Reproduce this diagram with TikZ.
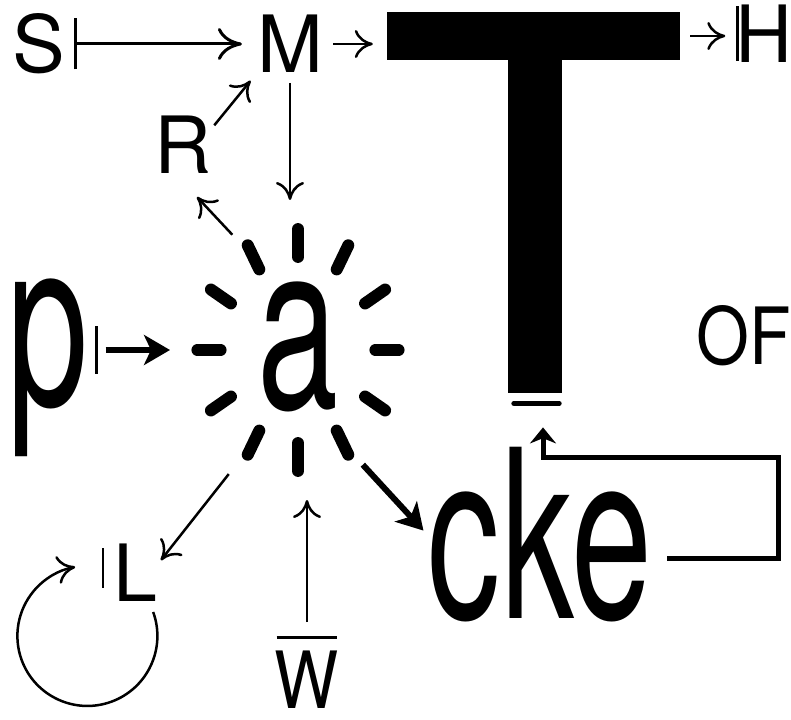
\documentclass[tikz,border=0pt]{standalone}
\usepackage{fontspec}
\setmainfont{TeX Gyre Heros}
\newfontfamily\narrowfont[FakeStretch=0.62]{TeX Gyre Heros}
\newfontfamily\semifont[FakeStretch=0.86]{TeX Gyre Heros}
\usetikzlibrary{arrows.meta,calc}

\begin{document}
\begin{tikzpicture}[
  x=1pt, y=-1pt,
  letter/.style={inner sep=0pt, font=\fontsize{79}{79}\selectfont},
  semiletter/.style={inner sep=0pt, font=\semifont\fontsize{79}{79}\selectfont},
  bigletter/.style={inner sep=0pt, font=\narrowfont\fontsize{235}{235}\selectfont},
  blk/.style={fill=black, inner sep=0pt},
  ray/.style={line width=12pt, line cap=round},
  thinarr/.style={line width=2.5pt, -{Computer Modern Rightarrow[length=18pt,width=28pt]}},
  fatarr/.style={line width=6pt, -{Stealth[length=26pt,width=30pt,inset=7pt]}},
  barmark/.style={line width=3pt},
]
\useasboundingbox (0,0) rectangle (791,719);

% letters
\node[letter] (S) at (39,44) {S};
\node[letter] (M) at (290,44) {M};
\node[letter] (R) at (183,145) {R};
\node[letter] (H) at (764,34) {H};
\node[semiletter] (OF) at (744,336) {OF};
\node[bigletter] (p) at (48,368) {p};
\node[bigletter] (a) at (298,347) {a};
\node[bigletter] (cke) at (540,535) {cke};
\node[letter] (L) at (135,573) {L};
\node[semiletter] (W) at (307,680) {W};

% the big T
\node[blk, minimum width=293pt, minimum height=48pt] (tbar) at (533.5,36) {};
\node[blk, minimum width=54pt, minimum height=334pt, anchor=north] (tstem) at (535,59) {};
\draw[line width=5pt, line cap=round] ($(tstem.south west)+(6,10)$) -- ($(tstem.south east)+(-3,10)$);

% rays round a
\coordinate (burst) at (298,350);
\foreach \i in {0,...,11} {
  \coordinate (ray\i) at ($(burst)+({89*cos(30*\i)},{-107*sin(30*\i)})$);
  \draw[ray] ($(burst)!0.87!(ray\i)$) -- ($(burst)!1.13!(ray\i)$);
}

% top row
\draw[line width=3pt, {Bar[width=51pt]}-{Computer Modern Rightarrow[length=24pt,width=32pt]},
  shorten <=8pt, shorten >=15pt] (S.east) -- (M.west);
\draw[thinarr, shorten <=10pt, shorten >=14pt] (M.east) -- (M.east -| tbar.west);
\draw[thinarr, shorten <=10pt, shorten >=10pt] (tbar.east) -- (tbar.east -| H.west);
\draw[barmark] ($(H.north west)+(2,1)$) -- ++(0,55);

% R and M
\draw[thinarr, shorten <=4pt, shorten >=10pt] (R.30) -- (M.south west);
\draw[thinarr, shorten <=10pt, shorten >=43pt] (M.south) -- (M.south |- ray3);
\coordinate (rfoot) at ($(R.south)+(14,23)$);
\draw[thinarr, shorten <=31pt] (ray4) -- (rfoot);

% p into a
\draw[barmark] ($(p.east |- ray6)+(8,-24)$) -- ++(0,48);
\draw[fatarr, shorten <=17pt, shorten >=39pt] (p.east |- ray6) -- (ray6);

% L, W, cke
\draw[thinarr, shorten <=40pt, shorten >=6pt] (ray8) -- (L.20);
\draw[line width=2.5pt] ($(L.west)+(-10,-25)$) -- ++(0,40);
\draw[thinarr] ($(L.south east)+(-4,10)$) arc[start angle=-20, end angle=260, radius=70];
\draw[thinarr, shorten <=29pt, shorten >=43pt] (W.north) -- (W.north |- ray9);
\draw[barmark] ($(W.north west)+(2,-14)$) -- ($(W.north east)+(-2,-14)$);
\draw[fatarr, shorten <=30pt, shorten >=6pt] (ray10) -- (cke.west);

% feedback loop back to T
\coordinate (fbr) at (778,558);
\coordinate (ftr) at (778,457);
\coordinate (fup) at ($(tstem.south)+(8,0)$);
\draw[line width=5pt, -{Stealth[length=16pt,width=26pt]}, shorten <=15pt, shorten >=34pt]
  (cke.east |- fbr) -- (fbr) -- (ftr) -- (ftr -| fup) -- (fup);
\end{tikzpicture}
\end{document}
